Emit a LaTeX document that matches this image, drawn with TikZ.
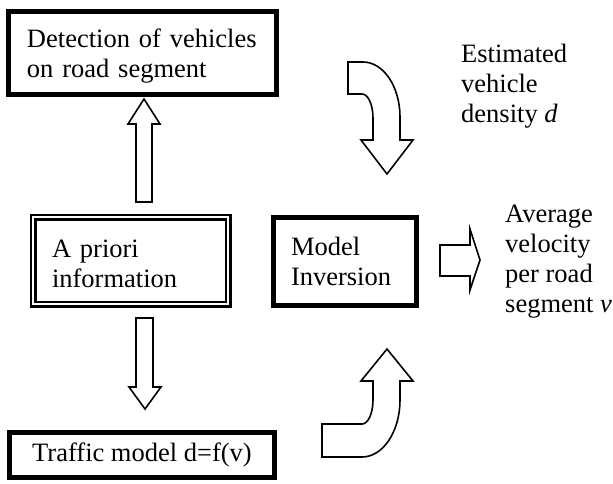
\documentclass[tikz,border=0pt]{standalone}
\usepackage{fontspec}
\setmainfont{Liberation Serif}
\newcommand{\toppad}{\rule{0pt}{24pt}}
\begin{document}
\begin{tikzpicture}[x=1pt,y=-1pt,
  every node/.style={font=\fontsize{26.5}{30}\selectfont},
  thickbox/.style={draw=black, line width=5pt, fill=white, inner sep=0pt, align=left},
  dblbox/.style={draw=black, double=white, line width=2.2pt, double distance=2.6pt, inner sep=0pt, align=left},
  blockarrow/.style={draw=black, line width=1.6pt, fill=white, line join=miter},
  lbl/.style={anchor=north west, inner sep=0pt, align=left}]
\useasboundingbox (0,0) rectangle (613,483);
\fill[white] (0,0) rectangle (613,483);

% boxes
\node[thickbox, minimum width=268pt, minimum height=83pt, text width=231pt] (det) at (142.5,53) {\toppad Detection of vehicles\\on road segment};
\node[dblbox, minimum width=195pt, minimum height=87pt, text width=157pt] (apr) at (130.5,260.5) {\toppad A priori\\information};
\node[thickbox, minimum width=143pt, minimum height=88pt, text width=108pt] (inv) at (345,261.5) {Model\\Inversion};
\node[thickbox, minimum width=265pt, minimum height=45pt, align=center] (traf) at (142,455) {Traffic model d=f(v)};

% labels
\node[lbl] (est) at (461,44) {Estimated\\vehicle\\density \textit{d}};
\node[lbl] (avg) at (505,205) {Average\\velocity\\per road\\segment \textit{v}};

% up arrow: a priori -> detection
\draw[blockarrow] (136,202) -- (136,124) -- (128,124) -- (144,99) -- (160,124) -- (152,124) -- (152,202) -- cycle;
% down arrow: a priori -> traffic model
\draw[blockarrow] (136,318) -- (136,387) -- (129,387) -- (145,409) -- (161,387) -- (153,387) -- (153,318) -- cycle;
% curved arrow: detection -> model inversion
\draw[blockarrow] (348,62) -- (363,62) .. controls (383.4,62) and (400,86.6) .. (400,117) -- (400,140) -- (413,140) -- (387,174) -- (361,140) -- (373,140) -- (373,118) .. controls (373,104.7) and (368.1,94) .. (362,94) -- (348,94) -- cycle;
% curved arrow: traffic model -> model inversion
\draw[blockarrow] (322,424) -- (362,424) .. controls (368.1,424) and (373,413.3) .. (373,400) -- (373,381) -- (361,381) -- (387,349) -- (413,381) -- (400,381) -- (400,400) .. controls (400,431.5) and (383,457) .. (362,457) -- (322,457) -- cycle;
% right arrow: model inversion -> output
\draw[blockarrow] (440,245) -- (470,245) -- (470,229) -- (480,260) -- (470,290) -- (470,276) -- (440,276) -- cycle;
\end{tikzpicture}
\end{document}
